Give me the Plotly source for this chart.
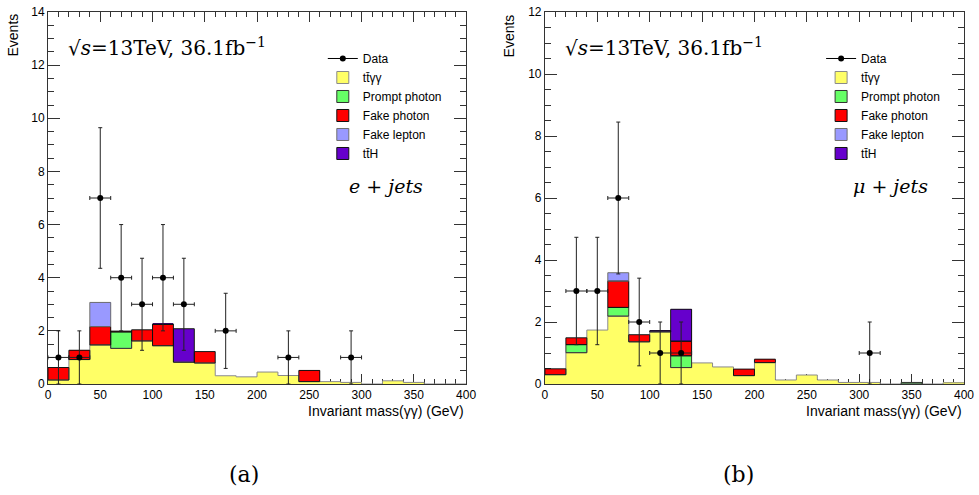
import plotly.graph_objects as go

# ---------------- data ----------------
bin_edges = list(range(0, 420, 20))          # 20 bins of 20 GeV, 0..400
x_ticks = [0, 50, 100, 150, 200, 250, 300, 350, 400]
series_names = ["tt\u0304\u03b3\u03b3", "Prompt photon", "Fake photon", "Fake lepton", "tt\u0304H"]
series_colors = ["#ffff66", "#66ff66", "#ff0000", "#9999ff", "#6600cc"]
series_edge = ["#8a8a8a", "#333333", "#111111", "#6f6f6f", "#111111"]

# e+jets
e_ttyy   = [0.15, 0.92, 1.47, 1.34, 1.62, 1.44, 0.82, 0.79, 0.31, 0.27, 0.45, 0.32, 0.09, 0.09, 0.06, 0.00, 0.12, 0.06, 0.00, 0.00]
e_prompt = [0.00, 0.00, 0.00, 0.62, 0.00, 0.00, 0.00, 0.00, 0.00, 0.00, 0.00, 0.00, 0.00, 0.00, 0.00, 0.00, 0.00, 0.00, 0.00, 0.00]
e_fakeph = [0.47, 0.35, 0.69, 0.03, 0.42, 0.80, 0.00, 0.43, 0.00, 0.00, 0.00, 0.00, 0.42, 0.00, 0.00, 0.00, 0.00, 0.00, 0.00, 0.00]
e_fakelep= [0.00, 0.00, 0.91, 0.00, 0.00, 0.00, 0.00, 0.00, 0.00, 0.00, 0.00, 0.00, 0.00, 0.00, 0.00, 0.00, 0.00, 0.00, 0.00, 0.00]
e_tth    = [0.00, 0.00, 0.00, 0.00, 0.00, 0.02, 1.26, 0.00, 0.00, 0.00, 0.00, 0.00, 0.00, 0.00, 0.00, 0.00, 0.00, 0.00, 0.00, 0.00]
e_data_x = [10, 30, 50, 70, 90, 110, 130, 170, 230, 290]
e_data_y = [1, 1, 7, 4, 3, 4, 3, 2, 1, 1]

# mu+jets
m_ttyy   = [0.30, 1.01, 1.74, 2.19, 1.36, 1.68, 0.53, 0.68, 0.55, 0.27, 0.69, 0.13, 0.29, 0.13, 0.05, 0.05, 0.00, 0.00, 0.00, 0.04]
m_prompt = [0.00, 0.26, 0.00, 0.28, 0.00, 0.00, 0.38, 0.00, 0.00, 0.00, 0.00, 0.00, 0.00, 0.00, 0.00, 0.00, 0.00, 0.05, 0.00, 0.00]
m_fakeph = [0.19, 0.22, 0.00, 0.85, 0.23, 0.00, 0.47, 0.00, 0.00, 0.21, 0.11, 0.00, 0.00, 0.00, 0.00, 0.00, 0.00, 0.00, 0.00, 0.00]
m_fakelep= [0.00, 0.00, 0.00, 0.27, 0.00, 0.00, 0.00, 0.00, 0.00, 0.00, 0.00, 0.00, 0.00, 0.00, 0.00, 0.00, 0.00, 0.00, 0.00, 0.00]
m_tth    = [0.00, 0.00, 0.00, 0.00, 0.00, 0.04, 1.03, 0.00, 0.00, 0.00, 0.00, 0.00, 0.00, 0.00, 0.00, 0.00, 0.00, 0.00, 0.00, 0.00]
m_data_x = [30, 50, 70, 90, 110, 130, 310]
m_data_y = [3, 3, 6, 2, 1, 1, 1]

# ---------------- figure ----------------
fig = go.Figure()
centers = [(a + b) / 2 for a, b in zip(bin_edges[:-1], bin_edges[1:])]
widths = [b - a for a, b in zip(bin_edges[:-1], bin_edges[1:])]


def add_panel(comps, dx, dy, xa, ya, legend):
    # legend entries
    fig.add_trace(go.Scatter(x=[None], y=[None], mode="lines+markers", name="Data",
                             line=dict(color="black", width=1), marker=dict(color="black", size=6),
                             xaxis=xa, yaxis=ya, legend=legend, showlegend=True))
    for name, col, ec in zip(series_names, series_colors, series_edge):
        fig.add_trace(go.Bar(x=[None], y=[None], name=name, marker=dict(color=col, line=dict(color=ec, width=1)),
                             xaxis=xa, yaxis=ya, legend=legend, showlegend=True))
    # stacked fills
    for vals, name, col in zip(comps, series_names, series_colors):
        fig.add_trace(go.Bar(x=centers, y=vals, width=widths, name=name, marker=dict(color=col, line=dict(width=0)),
                             xaxis=xa, yaxis=ya, showlegend=False, hoverinfo="skip"))
    # outlines: step of first component, boxes for upper ones
    first = comps[0]
    fig.add_trace(go.Scatter(x=bin_edges, y=list(first) + [first[-1]], mode="lines", line=dict(shape="hv", color=series_edge[0], width=1),
                             xaxis=xa, yaxis=ya, showlegend=False, hoverinfo="skip"))
    base = list(first)
    for k in range(1, len(comps)):
        xs, ys = [], []
        for i, v in enumerate(comps[k]):
            if v > 0:
                a, b = bin_edges[i], bin_edges[i + 1]
                lo, hi = base[i], base[i] + v
                xs += [a, a, b, b, a, None]
                ys += [lo, hi, hi, lo, lo, None]
        if xs:
            fig.add_trace(go.Scatter(x=xs, y=ys, mode="lines", line=dict(color=series_edge[k], width=1),
                                     xaxis=xa, yaxis=ya, showlegend=False, hoverinfo="skip"))
        base = [p + q for p, q in zip(base, comps[k])]
    # data
    fig.add_trace(go.Scatter(x=dx, y=dy, mode="markers", marker=dict(color="black", size=6),
                             error_y=dict(type="data", array=[v ** 0.5 for v in dy], color="#222", thickness=1, width=2),
                             error_x=dict(type="constant", value=10, color="#222", thickness=1, width=2),
                             xaxis=xa, yaxis=ya, showlegend=False, hoverinfo="skip"))


add_panel([e_ttyy, e_prompt, e_fakeph, e_fakelep, e_tth], e_data_x, e_data_y, "x", "y", "legend")
add_panel([m_ttyy, m_prompt, m_fakeph, m_fakelep, m_tth], m_data_x, m_data_y, "x2", "y2", "legend2")

sans = "Liberation Sans, Arial, sans-serif"
serif = "DejaVu Serif, serif"

def xax(domain, anchor):
    return dict(domain=domain, anchor=anchor, range=[0, 400], tickvals=x_ticks, ticks="inside", ticklen=10,
                tickcolor="#333", showline=True, linecolor="#333", linewidth=1, mirror="allticks",
                showgrid=False, zeroline=False, tickfont=dict(family=sans, size=12, color="black"),
                ticklabeloverflow="allow",
                minor=dict(dtick=10, ticks="inside", ticklen=5, tickcolor="#333", showgrid=False),
                layer="below traces")

def yax(anchor, top):
    return dict(anchor=anchor, domain=[0, 1], range=[0, top], dtick=2, ticks="inside", ticklen=12,
                tickcolor="#333", showline=True, linecolor="#333", linewidth=1, mirror="allticks",
                showgrid=False, zeroline=False, tickfont=dict(family=sans, size=12, color="black"),
                ticklabeloverflow="allow",
                minor=dict(dtick=0.5, ticks="inside", ticklen=6, tickcolor="#333", showgrid=False),
                layer="below traces")

leg_common = dict(bgcolor="rgba(0,0,0,0)", borderwidth=0, font=dict(family=sans, size=12, color="black"),
                  traceorder="normal", itemwidth=30, xanchor="left", yanchor="top", tracegroupgap=0,
                  itemclick=False, itemdoubleclick=False)

fig.update_layout(
    width=979, height=495, paper_bgcolor="white", plot_bgcolor="white",
    margin=dict(l=48, r=13, t=5, b=111),
    barmode="stack", bargap=0,
    xaxis=xax([0, 0.4564], "y"), yaxis=yax("x", 14),
    xaxis2=xax([0.5425, 1], "y2"), yaxis2=yax("x2", 12),
    legend=dict(x=0.30, y=0.914, **leg_common),
    legend2=dict(x=0.844, y=0.914, **leg_common),
    showlegend=True,
)

anns = []
for xr, yr in (("x domain", "y domain"), ("x2 domain", "y2 domain")):
    anns.append(dict(xref=xr, yref=yr, x=1, y=0, xanchor="right", yanchor="top", yshift=-17,
                     text="Invariant mass(\u03b3\u03b3) (GeV)", showarrow=False,
                     font=dict(family=sans, size=14, color="black")))
    anns.append(dict(xref=xr, yref=yr, x=0, y=1, xanchor="right", yanchor="top", xshift=-26,
                     text="Events", textangle=-90, showarrow=False,
                     font=dict(family=sans, size=14, color="black")))
    anns.append(dict(xref=xr, yref=yr, x=0.043, y=0.906, xanchor="left", yanchor="middle",
                     text="\u221a<i>s</i>=13TeV, 36.1fb<sup>\u22121</sup>", showarrow=False,
                     font=dict(family=serif, size=20, color="black")))
anns.append(dict(xref="x domain", yref="y domain", x=0.716, y=0.533, xanchor="left", yanchor="middle",
                 text="<i>e</i> + <i>jets</i>", showarrow=False, font=dict(family=serif, size=19, color="black")))
anns.append(dict(xref="x2 domain", yref="y2 domain", x=0.731, y=0.533, xanchor="left", yanchor="middle",
                 text="<i>\u03bc</i> + <i>jets</i>", showarrow=False, font=dict(family=serif, size=19, color="black")))
anns.append(dict(xref="paper", yref="paper", x=0.2135, y=-0.2427, xanchor="center", yanchor="middle",
                 text="(a)", showarrow=False, font=dict(family=serif, size=22, color="black")))
anns.append(dict(xref="paper", yref="paper", x=0.7538, y=-0.2427, xanchor="center", yanchor="middle",
                 text="(b)", showarrow=False, font=dict(family=serif, size=22, color="black")))
fig.update_layout(annotations=anns)

fig.write_html("out.html", config={"displayModeBar": False},
               post_script="document.body.style.margin='0';document.body.style.padding='0';")
